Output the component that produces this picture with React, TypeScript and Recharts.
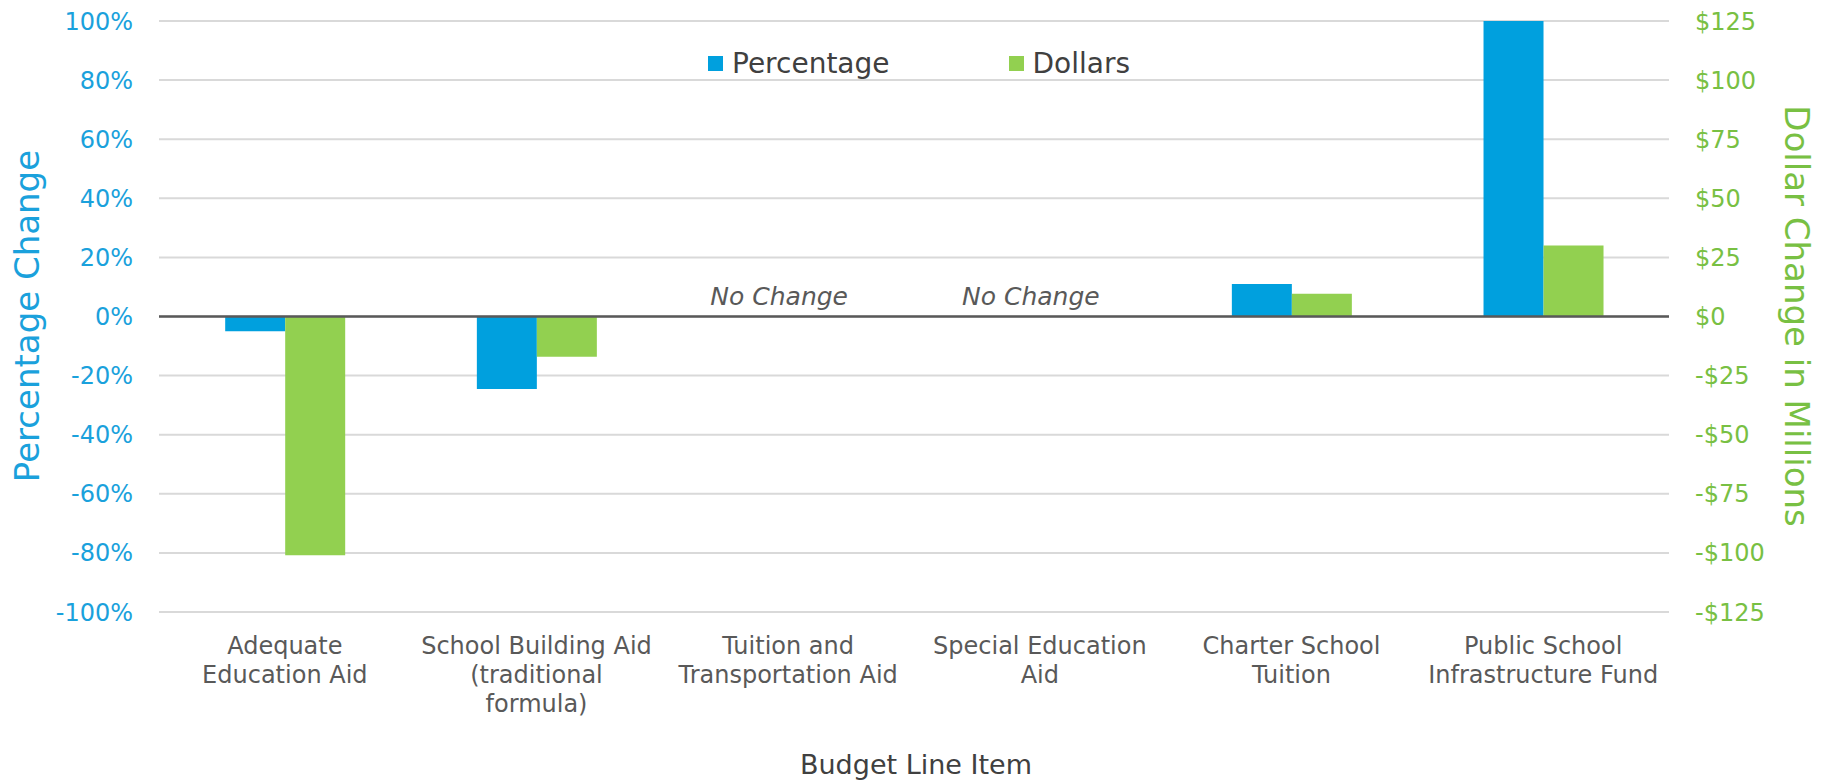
import {
  BarChart,
  Bar,
  XAxis,
  YAxis,
  CartesianGrid,
  ReferenceLine,
  ReferenceDot,
  Legend,
} from 'recharts';

const CATEGORIES = [
  'Adequate\nEducation Aid',
  'School Building Aid\n(traditional\nformula)',
  'Tuition and\nTransportation Aid',
  'Special Education\nAid',
  'Charter School\nTuition',
  'Public School\nInfrastructure Fund',
];
const SERIES_NAMES = ['Percentage', 'Dollars'];
const PERCENT_CHANGE = [-5, -24.5, 0, 0, 11, 100];
const DOLLAR_CHANGE = [-101, -17, 0, 0, 9.6, 30];
const NOTES = ['', '', 'No Change', 'No Change', '', ''];
const PERCENT_TICKS = [-100, -80, -60, -40, -20, 0, 20, 40, 60, 80, 100];
const DOLLAR_TICKS = [-125, -100, -75, -50, -25, 0, 25, 50, 75, 100, 125];

const FONT = '"DejaVu Sans", sans-serif';
const BLUE = '#00A0DE';
const GREEN = '#92D050';
const BLUE_TEXT = '#1AA1DC';
const GREEN_TEXT = '#78C043';

const chartData = CATEGORIES.map((name, i) => ({
  name,
  pct: PERCENT_CHANGE[i],
  dollars: DOLLAR_CHANGE[i],
}));

const formatPct = (v: number) => `${v}%`;
const formatDollars = (v: number) => (v < 0 ? `-$${-v}` : `$${v}`);

function CategoryTick({ x, y, payload }: any) {
  const lines = String(payload.value).split('\n');
  return (
    <text x={x} y={y} textAnchor="middle" fill="#595959" fontSize={24} fontFamily={FONT}>
      {lines.map((line, i) => (
        <tspan key={i} x={x} dy={i === 0 ? 42 : 29}>
          {line}
        </tspan>
      ))}
    </text>
  );
}

function renderLegend(props: any) {
  const items = [...(props.payload ?? [])].sort(
    (a: any, b: any) => SERIES_NAMES.indexOf(a.value) - SERIES_NAMES.indexOf(b.value)
  );
  return (
    <div style={{ display: 'flex', fontFamily: FONT, fontSize: 28, color: '#404040' }}>
      {items.map((item: any, i: number) => (
        <div key={i} style={{ display: 'flex', alignItems: 'center', marginRight: 119 }}>
          <span style={{ width: 15, height: 15, background: item.color, marginRight: 9 }} />
          <span>{item.value}</span>
        </div>
      ))}
    </div>
  );
}

export default function App() {
  return (
    <div style={{ position: 'absolute', left: 0, top: 0, background: '#fff' }}>
      <BarChart
        width={1829}
        height={783}
        data={chartData}
        margin={{ top: 21, right: 0, bottom: 0, left: 0 }}
        barGap={0}
        barCategoryGap="26.3%"
      >
        <CartesianGrid yAxisId="pct" vertical={false} stroke="#D9D9D9" strokeWidth={2} />
        <XAxis
          dataKey="name"
          height={171}
          axisLine={false}
          tickLine={false}
          tickSize={0}
          tickMargin={0}
          interval={0}
          tick={<CategoryTick />}
          label={{
            content: () => (
              <text x={916} y={774} textAnchor="middle" fill="#404040" fontSize={27} fontFamily={FONT}>
                Budget Line Item
              </text>
            ),
          }}
        />
        <YAxis
          yAxisId="pct"
          orientation="left"
          width={159}
          domain={[-100, 100]}
          ticks={PERCENT_TICKS}
          tickFormatter={formatPct}
          axisLine={false}
          tickLine={false}
          tickSize={0}
          tickMargin={26}
          tick={{ fill: BLUE_TEXT, fontSize: 24, fontFamily: FONT }}
          label={{
            content: () => (
              <text
                x={27}
                y={316}
                transform="rotate(-90 27 316)"
                textAnchor="middle"
                dominantBaseline="central"
                fill={BLUE_TEXT}
                fontSize={34}
                fontFamily={FONT}
              >
                Percentage Change
              </text>
            ),
          }}
        />
        <YAxis
          yAxisId="usd"
          orientation="right"
          width={160}
          domain={[-125, 125]}
          ticks={DOLLAR_TICKS}
          tickFormatter={formatDollars}
          axisLine={false}
          tickLine={false}
          tickSize={0}
          tickMargin={26}
          tick={{ fill: GREEN_TEXT, fontSize: 24, fontFamily: FONT }}
          label={{
            content: () => (
              <text
                x={1797}
                y={316}
                transform="rotate(90 1797 316)"
                textAnchor="middle"
                dominantBaseline="central"
                fill={GREEN_TEXT}
                fontSize={34}
                fontFamily={FONT}
              >
                Dollar Change in Millions
              </text>
            ),
          }}
        />
        <Legend
          layout="vertical"
          verticalAlign="middle"
          align="center"
          content={renderLegend}
          wrapperStyle={{ top: 47, left: 708, width: 560 }}
        />
        <Bar yAxisId="pct" dataKey="pct" name="Percentage" fill={BLUE} isAnimationActive={false} />
        <Bar yAxisId="usd" dataKey="dollars" name="Dollars" fill={GREEN} isAnimationActive={false} />
        <ReferenceLine yAxisId="pct" y={0} stroke="#595959" strokeWidth={2.5} />
        {NOTES.map((note, i) =>
          note ? (
            <ReferenceDot
              key={i}
              yAxisId="pct"
              x={CATEGORIES[i]}
              y={0}
              r={1}
              fill="none"
              stroke="none"
              label={{
                content: (p: any) => {
                  const vb = p.viewBox ?? {};
                  const cx = Number(vb.x ?? 0) + Number(vb.width ?? 0) / 2;
                  const cy = Number(vb.y ?? 0) + Number(vb.height ?? 0) / 2;
                  return (
                    <text
                      x={cx - 9}
                      y={cy - 12}
                      textAnchor="middle"
                      fill="#595959"
                      fontSize={25}
                      fontStyle="italic"
                      fontFamily={FONT}
                    >
                      {note}
                    </text>
                  );
                },
              }}
            />
          ) : null
        )}
      </BarChart>
    </div>
  );
}
